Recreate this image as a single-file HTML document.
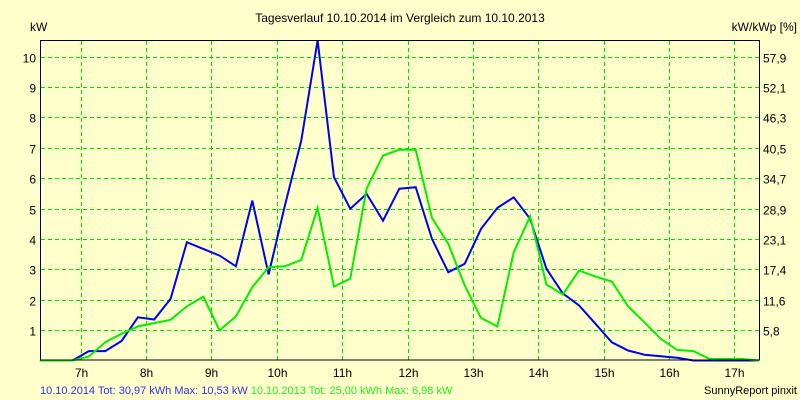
<!DOCTYPE html>
<html><head><meta charset="utf-8"><style>
html,body{margin:0;padding:0;background:#FFFFCC;}
svg{display:block;font-family:"Liberation Sans",sans-serif;}
</style></head><body>
<svg id="chart" width="800" height="400" viewBox="0 0 800 400">
<rect x="0" y="0" width="800" height="400" fill="#FFFFCC"/>
<text x="400" y="22" font-size="12" text-anchor="middle" fill="#000">Tagesverlauf 10.10.2014 im Vergleich zum 10.10.2013</text>
<text x="30" y="31" font-size="12" fill="#000">kW</text>
<text x="797" y="31" font-size="12" text-anchor="end" fill="#000">kW/kWp [%]</text>
<g id="grid"></g>
<g id="series"></g>
<rect x="40.5" y="40.5" width="719" height="319.5" fill="none" stroke="#000" stroke-width="1"/>
<g id="labels"></g>
<text x="40" y="394" font-size="11"><tspan fill="#3030F0">10.10.2014 Tot: 30,97 kWh Max: 10,53 kW </tspan><tspan fill="#22EE22">10.10.2013 Tot: 25,00 kWh Max: 6,98 kW</tspan></text>
<text x="797" y="394" font-size="11" text-anchor="end" fill="#000">SunnyReport pinxit</text>
</svg>
<script>
const startHour = 6.375;
const stepHour = 0.25;
const series2014 = [0,0,0,0.31,0.31,0.64,1.42,1.35,2.03,3.89,3.67,3.45,3.10,5.26,2.83,5.1,7.24,10.53,6.03,4.99,5.48,4.6,5.65,5.70,4.0,2.9,3.18,4.33,5.02,5.37,4.66,3.02,2.21,1.81,1.21,0.60,0.33,0.19,0.14,0.09,0,0,0,0,0];
const series2013 = [0,0,0,0.13,0.6,0.88,1.12,1.23,1.34,1.78,2.1,0.99,1.45,2.41,3.07,3.10,3.31,5.02,2.43,2.69,5.65,6.74,6.93,6.93,4.69,3.84,2.47,1.4,1.12,3.56,4.74,2.5,2.17,2.96,2.76,2.6,1.78,1.26,0.71,0.35,0.31,0.05,0.05,0.05,0];
const yTicks = [1,2,3,4,5,6,7,8,9,10];
const yTickLabels = ["1","2","3","4","5","6","7","8","9","10"];
const rightTickLabels = ["5,8","11,6","17,4","23,1","28,9","34,7","40,5","46,3","52,1","57,9"];
const xTicks = [7,8,9,10,11,12,13,14,15,16,17];
const xTickLabels = ["7h","8h","9h","10h","11h","12h","13h","14h","15h","16h","17h"];

const NS="http://www.w3.org/2000/svg";
function xs(h){return 80.7+(h-7)*65.36;}
function ys(v){return 360.5-v*30.4;}
const grid=document.getElementById('grid'),labels=document.getElementById('labels'),ser=document.getElementById('series');
function mk(tag,attrs,parent){const e=document.createElementNS(NS,tag);for(const k in attrs)e.setAttribute(k,attrs[k]);parent.appendChild(e);return e;}
yTicks.forEach((v,i)=>{
  const y=Math.round(ys(v))+0.5;
  const l=mk('line',{x1:41,x2:759,y1:y,y2:y,stroke:'#00DD00','stroke-dasharray':'4,3'},grid);
  
  
  const t=mk('text',{x:36,y:y+5,'font-size':12,'text-anchor':'end',fill:'#000'},labels);
  t.textContent=yTickLabels[i];
  
  
  const r=mk('text',{x:763,y:y+5,'font-size':12,fill:'#000'},labels);
  r.textContent=rightTickLabels[i];
  
  
});
xTicks.forEach((h,i)=>{
  const x=Math.round(xs(h))+0.5;
  const l=mk('line',{x1:x,x2:x,y1:41,y2:360,stroke:'#00DD00','stroke-dasharray':'4,3'},grid);
  
  
  const t=mk('text',{x:x,y:377,'font-size':12,'text-anchor':'middle',fill:'#000'},labels);
  t.textContent=xTickLabels[i];
  
  
});
function line(data,color,name){
  const pts=data.map((v,i)=>xs(startHour+i*stepHour).toFixed(1)+','+ys(v).toFixed(1)).join(' ');
  const p=mk('polyline',{points:pts,fill:'none',stroke:color,'stroke-width':2,'stroke-linejoin':'miter'},ser);
  
  
}
line(series2014,'#0000EE','line-2014');
line(series2013,'#00EE00','line-2013');
</script>
</body></html>
